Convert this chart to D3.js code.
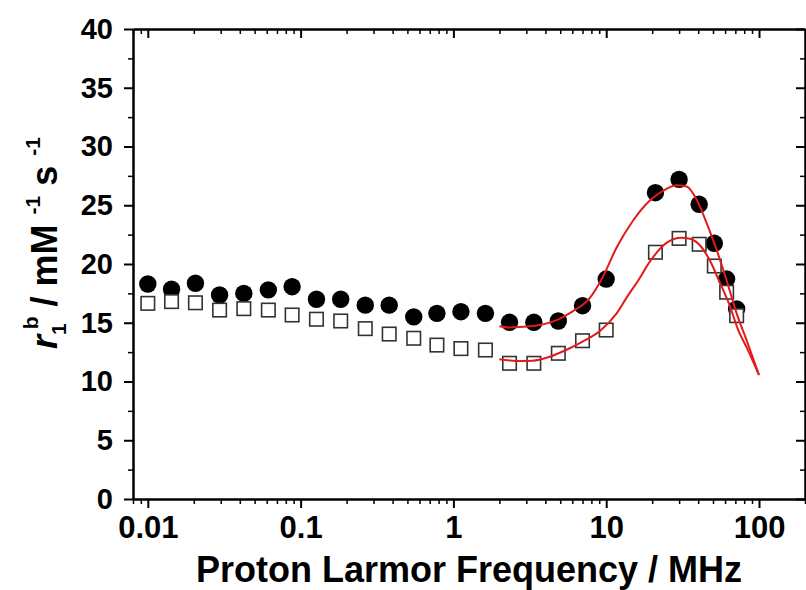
<!DOCTYPE html>
<html><head><meta charset="utf-8">
<script src="https://cdn.jsdelivr.net/npm/d3@7"></script>
<style>body{margin:0;background:#fff} svg{display:block}</style>
</head><body><svg id="c" width="806" height="590"></svg>
<script>
// ---- data ----
const freqs = [0.01, 0.0143, 0.0205, 0.0295, 0.0425, 0.0615, 0.088, 0.127, 0.183, 0.265, 0.38, 0.55, 0.78, 1.12, 1.62, 2.33, 3.36, 4.86, 7.0, 10.0, 21, 30, 40.6, 51, 61.4, 71.4];
const r1Filled = [18.3, 17.85, 18.36, 17.36, 17.5, 17.8, 18.07, 17.0, 17.0, 16.5, 16.5, 15.5, 15.8, 15.94, 15.8, 15.04, 15.04, 15.15, 16.45, 18.72, 26.07, 27.2, 25.08, 21.76, 18.72, 16.17];
const r1Open = [16.65, 16.8, 16.7, 16.08, 16.2, 16.08, 15.66, 15.3, 15.15, 14.5, 14.04, 13.68, 13.1, 12.8, 12.68, 11.55, 11.55, 12.4, 13.47, 14.38, 21.0, 22.18, 21.68, 19.83, 17.6, 15.6];
const fitFilledF = [2.0, 2.3, 2.85, 3.65, 4.7, 6.0, 7.8, 9.5, 11.7, 15, 19.3, 24.8, 28.8, 33.6, 39, 45.4, 52.8, 61.4, 71.4, 83, 100];
const fitFilledR = [14.7, 14.6, 14.65, 14.8, 15.2, 15.95, 17.1, 18.9, 21.4, 23.7, 25.4, 26.4, 26.7, 26.6, 25.5, 23.5, 21.2, 18.6, 15.8, 13.5, 10.55];
const fitOpenF = [2.0, 2.6, 3.3, 4.26, 5.5, 7.0, 9.1, 11.7, 13.7, 16.2, 19.3, 24.8, 31, 35.3, 41, 47.7, 55.5, 64.6, 73, 83, 100];
const fitOpenR = [11.9, 11.75, 11.77, 12.1, 12.7, 13.4, 14.3, 15.8, 17.2, 18.6, 20.2, 21.8, 22.24, 22.15, 21.6, 20.3, 18.4, 16.4, 14.4, 12.9, 10.55];
const xMajorTicks = [0.01, 0.1, 1, 10, 100];
const xTickLabels = ["0.01", "0.1", "1", "10", "100"];
const xMinorTicks = [0.008, 0.009, 0.02, 0.03, 0.04, 0.05, 0.06, 0.07, 0.08, 0.09, 0.2, 0.3, 0.4, 0.5, 0.6, 0.7, 0.8, 0.9, 2, 3, 4, 5, 6, 7, 8, 9, 20, 30, 40, 50, 60, 70, 80, 90, 200];
const yMajorTicks = [0, 5, 10, 15, 20, 25, 30, 35, 40];
const yMinorTicks = [2.5, 7.5, 12.5, 17.5, 22.5, 27.5, 32.5, 37.5];
const xTitle = "Proton Larmor Frequency / MHz";

// ---- layout ----
const L = 133, R = 805, T = 29, B = 499;
const svg = d3.select("#c");
const x = d3.scaleLog().domain([0.008, 200]).range([L, R]);
const y = d3.scaleLinear().domain([0, 40]).range([B, T]);
const FONT = "'Liberation Sans', Arial, Helvetica, sans-serif";

function styleAxis(g, w) {
  g.selectAll("path.domain").attr("stroke", "#000").attr("stroke-width", 2);
  g.selectAll(".tick line").attr("stroke", "#000").attr("stroke-width", w);
}
// bottom
svg.append("g").attr("transform", `translate(0,${B})`)
  .call(d3.axisBottom(x).tickValues(xMinorTicks).tickSize(5).tickSizeOuter(0).tickFormat(""))
  .call(g => styleAxis(g, 1.5));
const gb = svg.append("g").attr("transform", `translate(0,${B})`)
  .call(d3.axisBottom(x).tickValues(xMajorTicks).tickSize(9).tickSizeOuter(0)
    .tickFormat((d, i) => xTickLabels[i]).tickPadding(8))
  .call(g => styleAxis(g, 2));
gb.selectAll("text").attr("font-family", FONT).attr("font-weight", "bold").attr("font-size", 31).attr("fill", "#000");
// top (inward)
svg.append("g").attr("transform", `translate(0,${T})`)
  .call(d3.axisTop(x).tickValues(xMinorTicks).tickSize(-5).tickSizeOuter(0).tickFormat(""))
  .call(g => styleAxis(g, 1.5));
svg.append("g").attr("transform", `translate(0,${T})`)
  .call(d3.axisTop(x).tickValues(xMajorTicks).tickSize(-9).tickSizeOuter(0).tickFormat(""))
  .call(g => styleAxis(g, 2));
// left
svg.append("g").attr("transform", `translate(${L},0)`)
  .call(d3.axisLeft(y).tickValues(yMinorTicks).tickSize(5).tickSizeOuter(0).tickFormat(""))
  .call(g => styleAxis(g, 1.5));
const gl = svg.append("g").attr("transform", `translate(${L},0)`)
  .call(d3.axisLeft(y).tickValues(yMajorTicks).tickSize(9).tickSizeOuter(0).tickPadding(11))
  .call(g => styleAxis(g, 2));
gl.selectAll("text").attr("font-family", FONT).attr("font-weight", "bold").attr("font-size", 29).attr("fill", "#000");
// right (inward)
svg.append("g").attr("transform", `translate(${R},0)`)
  .call(d3.axisRight(y).tickValues(yMinorTicks).tickSize(-5).tickSizeOuter(0).tickFormat(""))
  .call(g => styleAxis(g, 1.5));
svg.append("g").attr("transform", `translate(${R},0)`)
  .call(d3.axisRight(y).tickValues(yMajorTicks).tickSize(-9).tickSizeOuter(0).tickFormat(""))
  .call(g => styleAxis(g, 2));

// ---- marks ----
const pts = freqs.map((f, i) => ({ f, a: r1Filled[i], b: r1Open[i] }));
svg.append("g").selectAll("circle").data(pts).join("circle")
  .attr("cx", d => x(d.f)).attr("cy", d => y(d.a)).attr("r", 8.7).attr("fill", "#000");
const S = 13.5;
svg.append("g").selectAll("rect").data(pts).join("rect")
  .attr("x", d => x(d.f) - S / 2).attr("y", d => y(d.b) - S / 2).attr("width", S).attr("height", S)
  .attr("fill", "#fff").attr("stroke", "#333").attr("stroke-width", 1.6);

const line = d3.line().x(d => x(d[0])).y(d => y(d[1])).curve(d3.curveMonotoneX);
svg.append("path").attr("d", line(fitFilledF.map((f, i) => [f, fitFilledR[i]])))
  .attr("fill", "none").attr("stroke", "#e21a1a").attr("stroke-width", 2);
svg.append("path").attr("d", line(fitOpenF.map((f, i) => [f, fitOpenR[i]])))
  .attr("fill", "none").attr("stroke", "#e21a1a").attr("stroke-width", 2);

// ---- titles ----
svg.append("text").attr("x", 469).attr("y", 582).attr("text-anchor", "middle")
  .attr("font-family", FONT).attr("font-weight", "bold").attr("font-size", 36).text(xTitle);

const yt = svg.append("text").attr("transform", "translate(57,243) rotate(-90)")
  .attr("text-anchor", "middle").attr("font-family", FONT).attr("font-weight", "bold").attr("font-size", 36);
yt.append("tspan").attr("font-style", "italic").text("r");
yt.append("tspan").attr("font-size", 21).attr("dy", 9).text("1");
yt.append("tspan").attr("font-size", 21).attr("dx", -6).attr("dy", -28).text("b");
yt.append("tspan").attr("dy", 19).text(" / mM ");
yt.append("tspan").attr("font-size", 21).attr("dy", -17).text("-1");
yt.append("tspan").attr("dy", 17).text(" s ");
yt.append("tspan").attr("font-size", 21).attr("dy", -17).text("-1");
</script></body></html>
